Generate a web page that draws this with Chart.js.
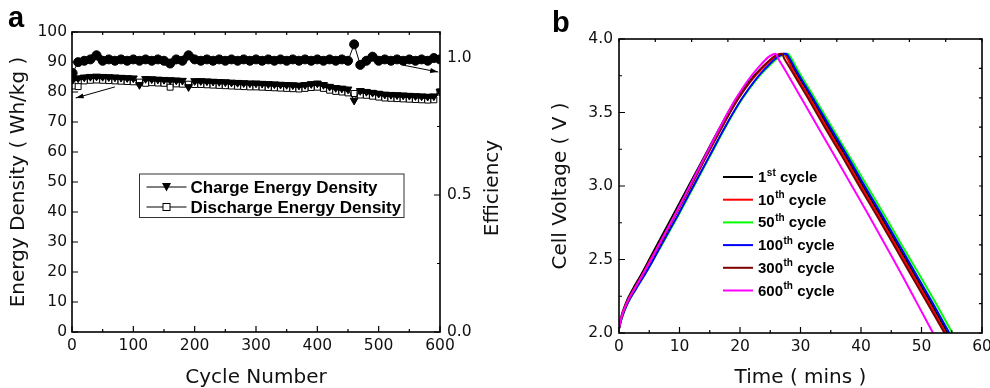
<!DOCTYPE html>
<html>
<head>
<meta charset="utf-8">
<script src="https://cdn.jsdelivr.net/npm/chart.js@4.4.0/dist/chart.umd.min.js"></script>
<style>
  html, body { margin: 0; padding: 0; background: #fff; overflow: hidden; }
  #wrap { position: relative; width: 990px; height: 388px; overflow: hidden; }
  canvas { position: absolute; top: 0; }
  #chartA { left: 0; }
  #chartB { left: 530px; }
</style>
</head>
<body>
<div id="wrap">
  <canvas id="chartA" width="530" height="388"></canvas>
  <canvas id="chartB" width="470" height="388"></canvas>
</div>
<script>
// ---- panel a: cycling data ----
const cycles = [1, 10, 20, 30, 40, 50, 60, 70, 80, 90, 100, 110, 120, 130, 140, 150, 160, 170, 180, 190,
  200, 210, 220, 230, 240, 250, 260, 270, 280, 290, 300, 310, 320, 330, 340, 350, 360, 370, 380, 390,
  400, 410, 420, 430, 440, 450, 460, 470, 480, 490, 500, 510, 520, 530, 540, 550, 560, 570, 580, 590, 600];

const chargeDensity = [84.1, 84.6, 84.9, 85.1, 85.2, 85.1, 85.0, 84.9, 84.8, 84.7,
  84.6, 82.4, 84.4, 84.3, 84.2, 84.1, 84.0, 83.9, 83.8, 81.7,
  83.7, 83.7, 83.6, 83.5, 83.4, 83.3, 83.2, 83.1, 83.0, 82.9,
  82.9, 82.8, 82.7, 82.6, 82.5, 82.4, 82.3, 82.2, 82.4, 82.7,
  82.9, 82.4, 81.8, 81.4, 81.2, 80.9, 77.2, 80.4, 80.1, 79.8,
  79.5, 79.2, 79.1, 79.0, 78.9, 78.8, 78.7, 78.6, 78.5, 78.6, 80.2];

const dischargeDensity = [82.0, 81.8, 83.7, 83.9, 84.0, 83.9, 83.8, 83.7, 83.6, 83.5,
  83.4, 83.3, 82.9, 83.1, 83.0, 82.9, 81.6, 82.7, 82.6, 82.6,
  82.5, 82.5, 82.4, 82.3, 82.2, 82.1, 82.0, 81.9, 81.8, 81.7,
  81.7, 81.6, 81.5, 81.4, 81.3, 81.2, 81.1, 81.0, 81.2, 81.5,
  81.6, 81.2, 80.6, 80.2, 80.0, 79.7, 79.5, 79.0, 78.9, 78.6,
  78.3, 78.0, 77.9, 77.8, 77.7, 77.6, 77.5, 77.4, 77.3, 77.4, 80.0];

const efficiency = [0.945, 0.985, 0.99, 0.995, 1.01, 0.99, 0.995, 0.99, 0.995, 0.99,
  0.995, 0.99, 0.995, 0.99, 0.995, 0.99, 0.98, 0.995, 0.99, 1.01,
  0.995, 0.99, 0.995, 0.99, 0.995, 0.99, 0.995, 0.99, 0.995, 0.99,
  0.995, 0.99, 0.995, 0.99, 0.995, 0.99, 0.995, 0.99, 0.995, 0.99,
  0.995, 0.99, 0.995, 0.99, 0.995, 0.99, 1.05, 0.975, 0.99, 1.005,
  0.99, 0.995, 0.99, 0.995, 0.99, 0.995, 0.99, 0.995, 0.99, 1.0, 0.995];

// arrows: [cycle, value] tail -> head
const arrowDensity = [[70, 81.7], [6, 78.0]];
const arrowEfficiency = [[540, 0.974], [597, 0.949]];

// ---- panel b: voltage profiles ----
const chargeV = [2.03, 2.10, 2.20, 2.30, 2.40, 2.50, 2.60, 2.80, 3.00, 3.20, 3.40, 3.60, 3.80, 3.90];
const dischargeV = [3.86, 3.80, 3.60, 3.40, 3.20, 3.00, 2.80, 2.60, 2.40, 2.20, 2.00];

const chargeT1 = [0, 0.3, 1.1, 2.3, 3.7, 5.0, 6.3, 8.9, 11.5, 14.1, 16.7, 19.5, 23.5, 27.4];
const chargeT10 = [0, 0.35, 1.2, 2.5, 3.9, 5.2, 6.6, 9.2, 11.8, 14.4, 17.0, 19.8, 23.7, 27.2];
const chargeT50 = [0, 0.45, 1.4, 2.8, 4.3, 5.7, 7.1, 9.8, 12.4, 15.0, 17.6, 20.5, 24.4, 27.9];
const chargeT100 = [0, 0.45, 1.4, 2.8, 4.3, 5.7, 7.0, 9.7, 12.3, 14.9, 17.5, 20.4, 24.2, 27.6];
const chargeT300 = [0, 0.4, 1.3, 2.6, 4.0, 5.3, 6.7, 9.3, 11.9, 14.4, 17.0, 19.8, 23.5, 26.9];
const chargeT600 = [0, 0.35, 1.25, 2.55, 3.95, 5.3, 6.6, 9.2, 11.7, 14.2, 16.7, 19.4, 22.9, 25.9];

const dischargeT1 = [28.1, 28.9, 31.8, 34.6, 37.5, 40.3, 43.2, 46.0, 48.8, 51.6, 54.3];
const dischargeT10 = [27.9, 28.6, 31.5, 34.3, 37.2, 40.0, 42.9, 45.7, 48.5, 51.3, 54.0];
const dischargeT50 = [28.6, 29.4, 32.3, 35.2, 38.1, 41.0, 43.9, 46.7, 49.6, 52.4, 55.1];
const dischargeT100 = [28.3, 29.1, 32.0, 34.9, 37.8, 40.6, 43.5, 46.3, 49.1, 51.9, 54.6];
const dischargeT300 = [27.4, 28.3, 31.2, 34.0, 36.9, 39.7, 42.6, 45.4, 48.2, 51.0, 53.8];
const dischargeT600 = [26.4, 27.3, 30.1, 32.9, 35.7, 38.5, 41.3, 44.0, 46.7, 49.3, 51.9];

const cycleNums = ['1', '10', '50', '100', '300', '600'];
const cycleSups = ['st', 'th', 'th', 'th', 'th', 'th'];
const cycleColors = ['#000000', '#ff0000', '#00ff00', '#0000ff', '#800000', '#ff00ff'];
const chargeTimes = [chargeT1, chargeT10, chargeT50, chargeT100, chargeT300, chargeT600];
const dischargeTimes = [dischargeT1, dischargeT10, dischargeT50, dischargeT100, dischargeT300, dischargeT600];

Chart.defaults.font.family = "'DejaVu Sans', sans-serif";
Chart.defaults.color = '#111';

const TICK_FONT = { size: 15.5 };
const TITLE_FONT = { size: 20 };

// pixel positions of every multiple of step inside the scale range
function stepPixels(scale, step) {
  const out = [];
  const n = Math.round((scale.max - scale.min) / step);
  for (let i = 0; i <= n; i++) out.push(scale.getPixelForValue(scale.min + i * step));
  return out;
}

// dense band look: thick line, but thin where the series jumps (outliers)
const bandWidth = (limit, wide) => ctx =>
  Math.abs(ctx.p0.parsed.y - ctx.p1.parsed.y) > limit ? 1 : wide;

// box + inward tick marks, Origin style
const frame = {
  id: 'frame',
  afterDatasetsDraw(chart, args, o) {
    const { ctx, chartArea: a, scales } = chart;
    const xs = scales.x, ys = scales.y, rs = scales[o.right] || ys;
    ctx.save();
    ctx.strokeStyle = '#000';
    ctx.lineWidth = 1.2;
    ctx.beginPath();
    const line = (x1, y1, x2, y2) => { ctx.moveTo(x1, y1); ctx.lineTo(x2, y2); };
    stepPixels(xs, o.xMajor).forEach(p => line(p, a.bottom, p, a.bottom - 6));
    if (o.xMinor) stepPixels(xs, o.xMinor).forEach(p => line(p, a.bottom, p, a.bottom - 3));
    stepPixels(ys, o.yMajor).forEach(p => line(a.left, p, a.left + 6, p));
    if (o.yMinor) stepPixels(ys, o.yMinor).forEach(p => line(a.left, p, a.left + 3, p));
    // top edge
    for (let i = 0; i <= o.topDiv; i++) {
      const p = a.left + a.width * i / o.topDiv;
      line(p, a.top, p, a.top + 3);
    }
    // right edge
    if (o.right) {
      stepPixels(rs, o.rMajor).forEach(p => line(a.right, p, a.right - 6, p));
      stepPixels(rs, o.rMinor).forEach(p => line(a.right, p, a.right - 3, p));
    } else {
      for (let i = 0; i <= o.rightDiv; i++) {
        const p = a.top + a.height * i / o.rightDiv;
        line(a.right, p, a.right - 3, p);
      }
    }
    ctx.stroke();
    ctx.lineWidth = 1.6;
    ctx.strokeRect(a.left, a.top, a.width, a.height);
    ctx.restore();
  }
};

function drawArrow(ctx, x1, y1, x2, y2) {
  const ang = Math.atan2(y2 - y1, x2 - x1);
  ctx.beginPath();
  ctx.moveTo(x1, y1);
  ctx.lineTo(x2, y2);
  ctx.stroke();
  ctx.beginPath();
  ctx.moveTo(x2, y2);
  ctx.lineTo(x2 - 8 * Math.cos(ang) + 2.5 * Math.sin(ang), y2 - 8 * Math.sin(ang) - 2.5 * Math.cos(ang));
  ctx.lineTo(x2 - 8 * Math.cos(ang) - 2.5 * Math.sin(ang), y2 - 8 * Math.sin(ang) + 2.5 * Math.cos(ang));
  ctx.closePath();
  ctx.fill();
}

// panel a extras: legend box, arrows, right title, panel letter
const extrasA = {
  id: 'extrasA',
  afterDraw(chart) {
    const { ctx, chartArea: a, scales } = chart;
    const xs = scales.x, ys = scales.y, y2 = scales.y2;
    ctx.save();
    ctx.strokeStyle = '#000';
    ctx.fillStyle = '#000';
    ctx.lineWidth = 1;
    const t = arrowDensity, e = arrowEfficiency;
    drawArrow(ctx, xs.getPixelForValue(t[0][0]), ys.getPixelForValue(t[0][1]),
      xs.getPixelForValue(t[1][0]), ys.getPixelForValue(t[1][1]));
    drawArrow(ctx, xs.getPixelForValue(e[0][0]), y2.getPixelForValue(e[0][1]),
      xs.getPixelForValue(e[1][0]), y2.getPixelForValue(e[1][1]));

    // legend
    const lx = a.left + 67.5, ly = a.top + 142;
    ctx.strokeStyle = '#333';
    ctx.strokeRect(lx, ly, 264.5, 43.5);
    ctx.strokeStyle = '#000';
    ctx.font = 'bold 17px "Liberation Sans", Arial, sans-serif';
    ctx.textBaseline = 'alphabetic';
    const rows = [['Charge Energy Density', 13], ['Discharge Energy Density', 33]];
    rows.forEach(([txt, dy], i) => {
      const cy = ly + dy;
      ctx.beginPath();
      ctx.moveTo(lx + 7, cy); ctx.lineTo(lx + 47, cy);
      ctx.stroke();
      const mx = lx + 27;
      if (i === 0) {
        ctx.beginPath();
        ctx.moveTo(mx - 4.5, cy - 4); ctx.lineTo(mx + 4.5, cy - 4); ctx.lineTo(mx, cy + 4.5);
        ctx.closePath(); ctx.fill();
      } else {
        ctx.fillStyle = '#fff';
        ctx.fillRect(mx - 3.5, cy - 3.5, 7, 7);
        ctx.strokeRect(mx - 3.5, cy - 3.5, 7, 7);
        ctx.fillStyle = '#000';
      }
      ctx.fillText(txt, lx + 51, cy + 6);
    });

    // right axis title (reads bottom to top)
    ctx.font = '20px "DejaVu Sans", sans-serif';
    ctx.fillStyle = '#111';
    ctx.translate(498, 188);
    ctx.rotate(-Math.PI / 2);
    ctx.textAlign = 'center';
    ctx.fillText('Efficiency', 0, 0);
    ctx.restore();

    ctx.save();
    ctx.font = 'bold 29px "Liberation Sans", Arial, sans-serif';
    ctx.fillStyle = '#000';
    ctx.fillText('a', 8, 27);
    ctx.restore();
  }
};

// panel b extras: legend, panel letter
const extrasB = {
  id: 'extrasB',
  afterDraw(chart) {
    const { ctx, chartArea: a } = chart;
    ctx.save();
    ctx.lineWidth = 2;
    cycleNums.forEach((num, i) => {
      const cy = a.top + 138 + i * 22.7;
      const lx = a.left + 104;
      ctx.strokeStyle = cycleColors[i];
      ctx.beginPath();
      ctx.moveTo(lx, cy); ctx.lineTo(lx + 30, cy);
      ctx.stroke();
      ctx.fillStyle = '#000';
      let tx = lx + 35;
      ctx.font = 'bold 15px "Liberation Sans", Arial, sans-serif';
      ctx.fillText(num, tx, cy + 5);
      tx += ctx.measureText(num).width + 0.5;
      ctx.font = 'bold 10px "Liberation Sans", Arial, sans-serif';
      ctx.fillText(cycleSups[i], tx, cy - 1.5);
      tx += ctx.measureText(cycleSups[i]).width;
      ctx.font = 'bold 15px "Liberation Sans", Arial, sans-serif';
      ctx.fillText(' cycle', tx, cy + 5);
    });
    ctx.font = 'bold 29px "Liberation Sans", Arial, sans-serif';
    ctx.fillText('b', 22, 32);
    ctx.restore();
  }
};

const noGrid = { display: false, drawTicks: false };

new Chart(document.getElementById('chartA'), {
  type: 'line',
  data: {
    datasets: [
      {
        label: 'Efficiency',
        data: cycles.map((c, i) => ({ x: c, y: efficiency[i] })),
        yAxisID: 'y2',
        borderColor: '#000', backgroundColor: '#000', borderWidth: 1,
        segment: { borderWidth: bandWidth(0.03, 7) },
        pointStyle: 'circle', pointRadius: 4.5, pointBorderWidth: 1,
        order: 3
      },
      {
        label: 'Charge Energy Density',
        data: cycles.map((c, i) => ({ x: c, y: chargeDensity[i] })),
        yAxisID: 'y',
        borderColor: '#000', backgroundColor: '#000', borderWidth: 1,
        segment: { borderWidth: bandWidth(1.5, 5) },
        pointStyle: 'triangle', pointRotation: 180, pointRadius: 4.5, pointBorderWidth: 1,
        order: 1
      },
      {
        label: 'Discharge Energy Density',
        data: cycles.map((c, i) => ({ x: c, y: dischargeDensity[i] })),
        yAxisID: 'y',
        borderColor: '#000', backgroundColor: '#fff', borderWidth: 1,
        pointStyle: 'rect', pointRadius: 4.2, pointBorderWidth: 1,
        order: 2
      }
    ]
  },
  options: {
    responsive: false,
    animation: false,
    devicePixelRatio: 1,
    layout: { padding: { top: 32, right: 0, left: 0, bottom: 0 } },
    plugins: {
      legend: { display: false },
      tooltip: { enabled: false },
      frame: { xMajor: 100, xMinor: 50, yMajor: 10, topDiv: 12, right: 'y2', rMajor: 0.5, rMinor: 0.25 }
    },
    scales: {
      x: {
        type: 'linear', min: 0, max: 600,
        ticks: { stepSize: 100, padding: 5, font: TICK_FONT, autoSkip: false, maxRotation: 0 },
        grid: noGrid, border: { display: false },
        title: { display: true, text: 'Cycle Number', font: TITLE_FONT, padding: { top: 0, bottom: -2 } },
        afterFit: s => { s.height = 56; }
      },
      y: {
        position: 'left', min: 0, max: 100,
        ticks: { stepSize: 10, padding: 5, font: TICK_FONT },
        grid: noGrid, border: { display: false },
        title: { display: true, text: 'Energy Density ( Wh/kg )', font: TITLE_FONT, padding: { top: 7, bottom: 0 } },
        afterFit: s => { s.width = 72; }
      },
      y2: {
        position: 'right', min: 0, max: 1.095,
        ticks: { stepSize: 0.5, includeBounds: false, padding: 7, font: TICK_FONT, callback: v => v.toFixed(1) },
        grid: noGrid, border: { display: false },
        afterFit: s => { s.width = 90; }
      }
    }
  },
  plugins: [frame, extrasA]
});

new Chart(document.getElementById('chartB'), {
  type: 'line',
  data: {
    datasets: cycleNums.map((num, i) => ({
      label: num + cycleSups[i] + ' cycle',
      data: chargeTimes[i].map((t, j) => ({ x: t, y: chargeV[j] }))
        .concat(dischargeTimes[i].map((t, j) => ({ x: t, y: dischargeV[j] }))),
      borderColor: cycleColors[i],
      borderWidth: 2,
      pointRadius: 0,
      cubicInterpolationMode: 'monotone',
      order: 5 - i
    }))
  },
  options: {
    responsive: false,
    animation: false,
    devicePixelRatio: 1,
    layout: { padding: { top: 39, right: 18, left: 0, bottom: 0 } },
    plugins: {
      legend: { display: false },
      tooltip: { enabled: false },
      frame: { xMajor: 10, xMinor: 5, yMajor: 0.5, yMinor: 0.25, topDiv: 10, rightDiv: 10 }
    },
    scales: {
      x: {
        type: 'linear', min: 0, max: 60,
        ticks: { stepSize: 10, padding: 5, font: TICK_FONT, autoSkip: false, maxRotation: 0 },
        grid: noGrid, border: { display: false },
        title: { display: true, text: 'Time ( mins )', font: TITLE_FONT, padding: { top: 0, bottom: -2 } },
        afterFit: s => { s.height = 55; }
      },
      y: {
        min: 2.0, max: 4.0,
        ticks: { stepSize: 0.5, padding: 6, font: TICK_FONT, callback: v => v.toFixed(1) },
        grid: noGrid, border: { display: false },
        title: { display: true, text: 'Cell Voltage ( V )', font: TITLE_FONT, padding: { top: 18.5, bottom: 0 } },
        afterFit: s => { s.width = 89; }
      }
    }
  },
  plugins: [frame, extrasB]
});
</script>
</body>
</html>
